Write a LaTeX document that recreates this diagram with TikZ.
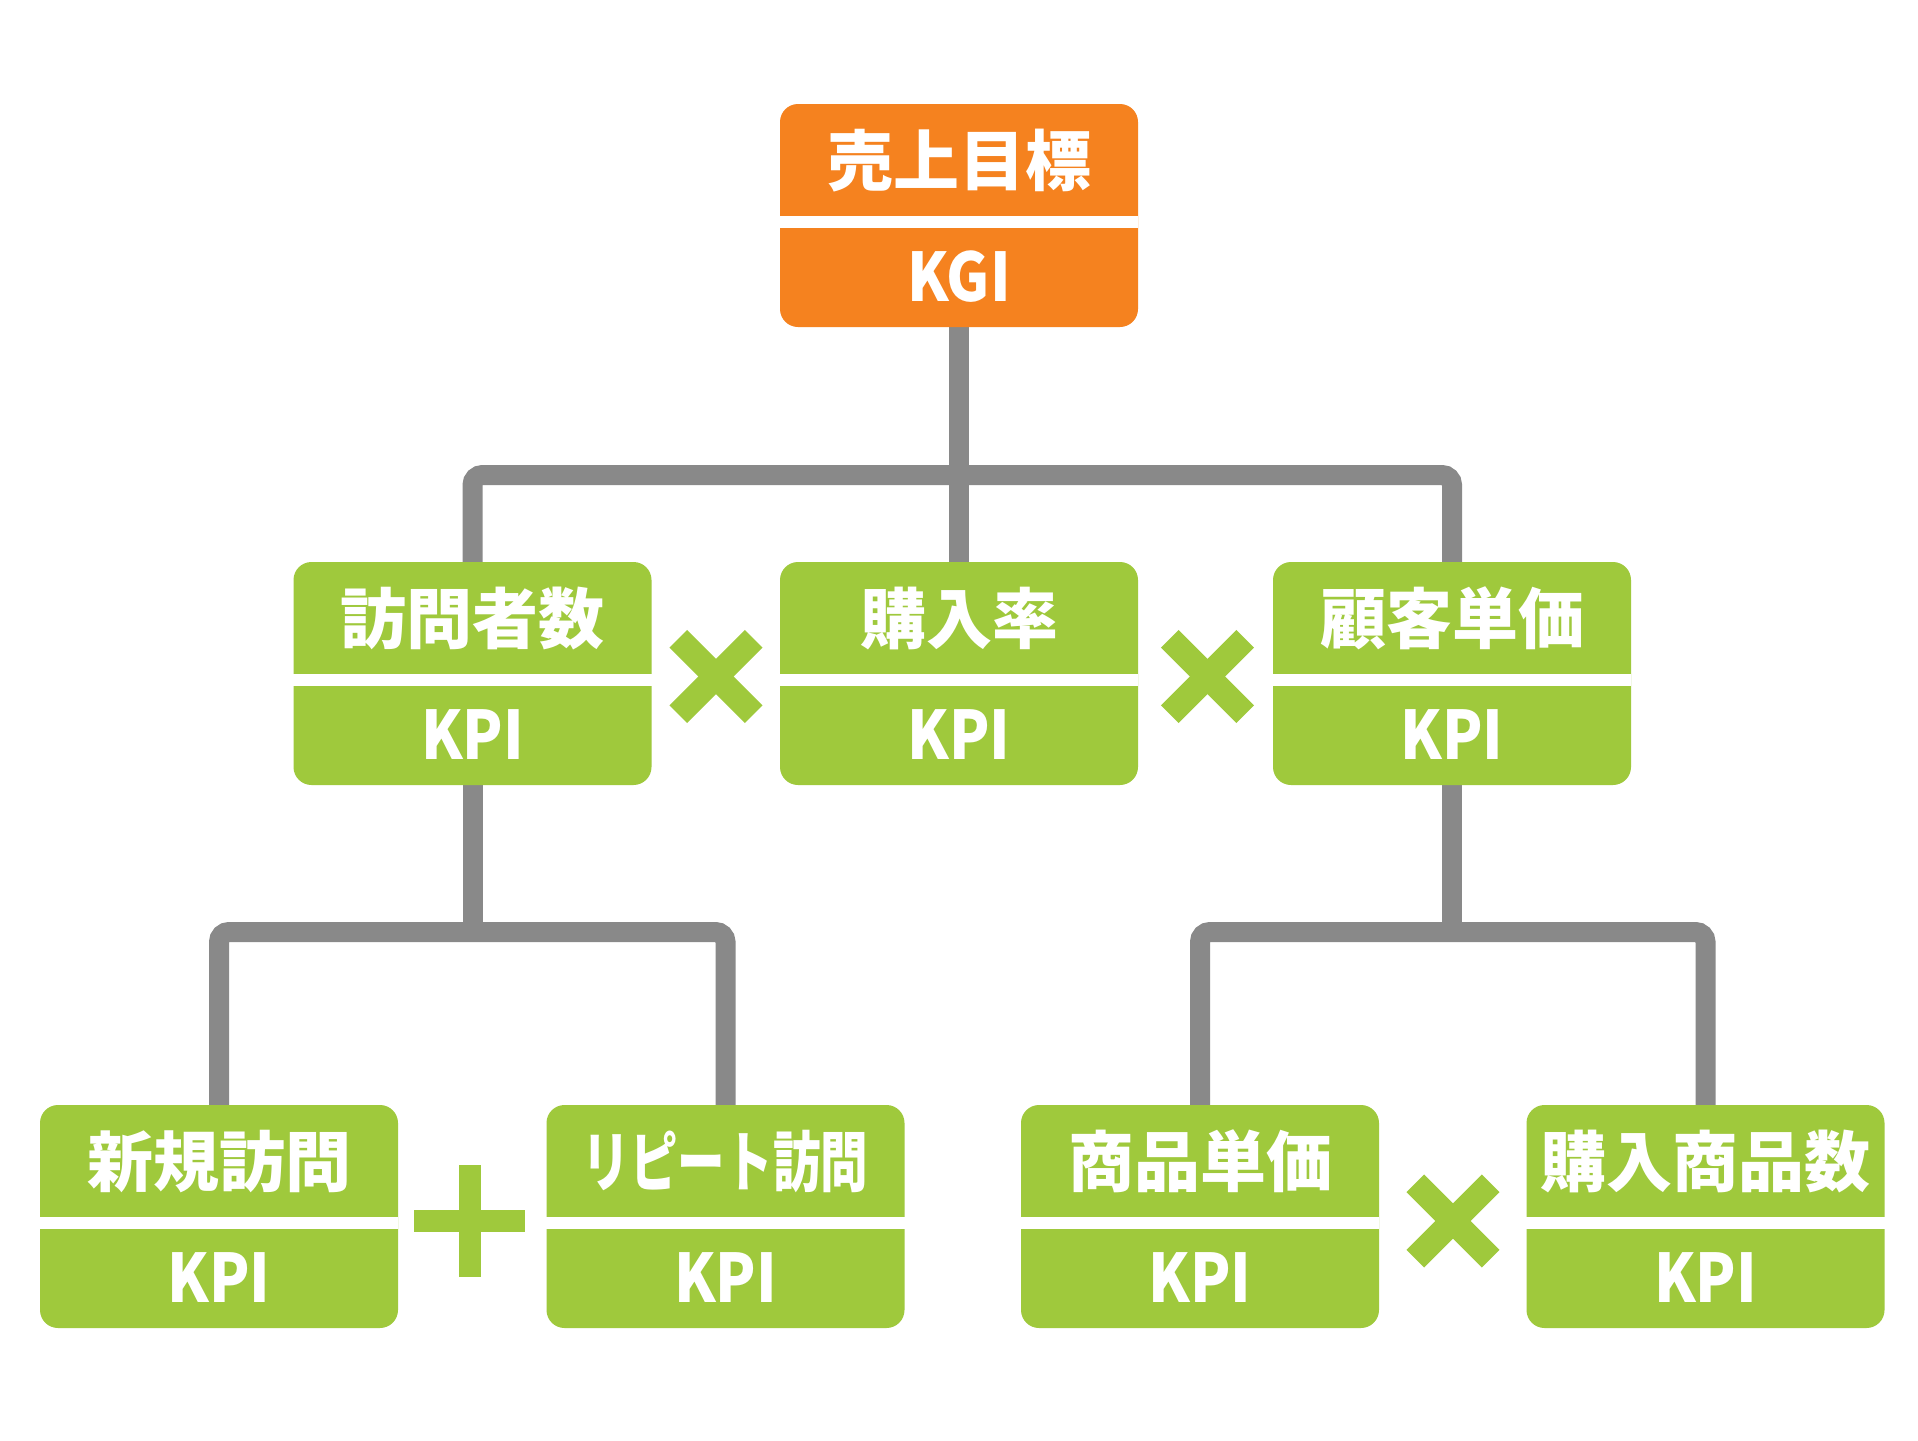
\documentclass[tikz,border=0pt]{standalone}
\usepackage{fontspec}
\newfontfamily\jpfont{Noto Sans CJK JP}
\newfontfamily\jpnarrow{Noto Sans CJK JP}[FakeStretch=0.72]
\newfontfamily\latfont{Noto Sans CJK JP}[FakeStretch=0.88]
\definecolor{kgiorange}{HTML}{F5821F}
\definecolor{kpigreen}{HTML}{9FC93C}
\definecolor{linegray}{HTML}{898989}
\pgfdeclarelayer{bg}
\pgfsetlayers{bg,main}
\tikzset{
  boxshape/.style={rectangle, rounded corners=18pt, minimum width=358pt, minimum height=223pt, inner sep=0pt, draw=none},
  titletext/.style={text=white, font=\jpfont\bfseries\fontsize{66pt}{66pt}\selectfont, inner sep=0pt, anchor=base},
  subtext/.style={text=white, font=\latfont\bfseries\fontsize{67pt}{67pt}\selectfont, inner sep=0pt, anchor=base},
  conn/.style={draw=linegray, line width=20pt, rounded corners=10pt},
  opmark/.style={draw=kpigreen, line width=25pt},
  plusmark/.style={draw=kpigreen, line width=22pt}
}
\newcommand{\kbox}[5]{%
  \node[boxshape, fill=#3] (#1) at (#2) {};
  \fill[white] ([yshift=-0.5pt]#1.west) rectangle ([yshift=-12.5pt]#1.east);
  \node[titletext] (#1-t) at ([yshift=30.5pt]#1.center) {#4};
  \node[subtext] (#1-s) at ([yshift=-86pt]#1.center) {#5};
}
\begin{document}
\begin{tikzpicture}[x=1pt,y=-1pt]
\useasboundingbox (0,0) rectangle (1918,1440);
\kbox{kgi}{959,215.5}{kgiorange}{売上目標}{KGI}
\kbox{m1}{472.5,673.5}{kpigreen}{訪問者数}{KPI}
\kbox{m2}{959,673.5}{kpigreen}{購入率}{KPI}
\kbox{m3}{1452,673.5}{kpigreen}{顧客単価}{KPI}
\kbox{b1}{219,1216.5}{kpigreen}{新規訪問}{KPI}
\kbox{b2}{725.5,1216.5}{kpigreen}{\jpnarrow リピート訪問}{KPI}
\kbox{b3}{1200,1216.5}{kpigreen}{商品単価}{KPI}
\kbox{b4}{1705.5,1216.5}{kpigreen}{購入商品数}{KPI}
\coordinate (j1) at (959,475);
\coordinate (j2) at (472.5,932);
\coordinate (j3) at (1452,932);
\begin{pgfonlayer}{bg}
\fill[white] (0,0) rectangle (1918,1440);
\draw[conn] (kgi.south) -- (m2.north);
\draw[conn] (m1.north) |- (j1) -| (m3.north);
\draw[conn] (m1.south) -- (j2);
\draw[conn] (b1.north) |- (j2) -| (b2.north);
\draw[conn] (m3.south) -- (j3);
\draw[conn] (b3.north) |- (j3) -| (b4.north);
\end{pgfonlayer}
% operators
\foreach \cx/\cy in {716/676.5, 1207.5/676.5, 1453/1221}{
  \draw[opmark] (\cx-37.7,\cy-37.7) -- (\cx+37.7,\cy+37.7);
  \draw[opmark] (\cx-37.7,\cy+37.7) -- (\cx+37.7,\cy-37.7);
}
\draw[plusmark] (470,1165) -- (470,1277);
\draw[plusmark] (414,1221) -- (525,1221);
\end{tikzpicture}
\end{document}
